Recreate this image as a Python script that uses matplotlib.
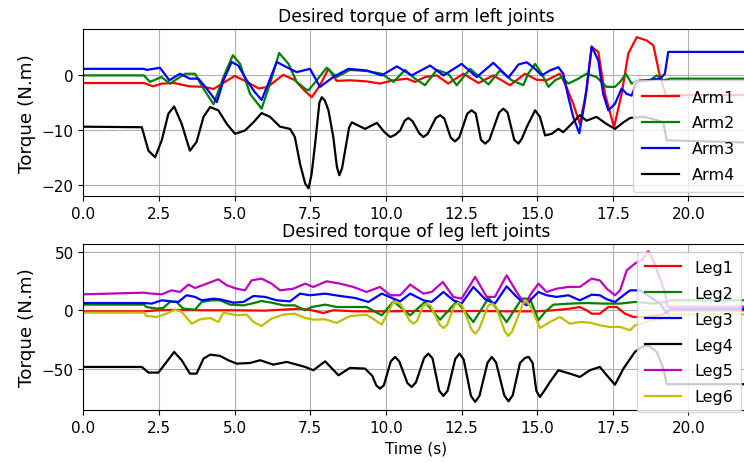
import matplotlib
matplotlib.use("Agg")
import matplotlib.pyplot as plt

# ---------------- Arm joints (top panel) ----------------
arm1_t = [0, 2.0, 2.3, 2.6, 3.0, 3.5, 4.0, 4.3, 5.0, 5.3, 5.8, 6.1, 6.6, 7.0, 7.3, 7.55, 7.82, 8.1, 8.37, 8.81,
          9.36, 9.8, 10.25, 10.7, 10.96, 11.29, 11.68, 12.06, 12.56, 13.06, 13.55, 14.1, 14.6, 14.98, 15.31,
          15.75, 15.92, 16.19, 16.41, 16.63, 16.8, 17.02, 17.24, 17.54, 17.79, 18.01, 18.29, 18.62, 18.84,
          19.06, 19.28, 19.4, 22]
arm1_v = [-1.4, -1.4, -2.0, -1.5, -1.4, -2.0, -2.1, -2.5, -0.1, -0.9, -2.4, -2.1, 0.1, -0.9, -2.75, -4.0, -1.8,
          1.2, -1.0, -0.9, -1.1, -1.5, -0.9, -0.6, -1.2, -0.3, 0.0, -1.5, 0.3, -1.4, 0.0, -1.8, 0.3, -0.8, -0.9,
          0.3, -1.5, -5.2, -8.9, -2.75, 5.2, 4.3, -3.4, -9.5, -3.4, 4.0, 7.0, 6.4, 5.5, -0.3, -4.0, -3.6, -3.6]

arm2_t = [0, 2.0, 2.2, 2.58, 2.86, 3.36, 3.69, 3.97, 4.3, 4.63, 4.94, 5.18, 5.51, 5.89, 6.17, 6.47, 6.78, 7.05,
          7.33, 7.44, 7.71, 8.04, 8.37, 8.81, 9.36, 9.86, 10.25, 10.63, 10.96, 11.29, 11.68, 12.06, 12.34, 12.78,
          13.39, 13.77, 14.16, 14.54, 14.7, 14.93, 15.15, 15.37, 15.59, 15.81, 16.03, 16.36, 16.63, 16.96, 17.29,
          17.57, 17.74, 17.93, 18.12, 18.4, 18.73, 18.95, 19.17, 19.39, 22]
arm2_v = [0, 0, -1.2, -0.3, -1.5, 0.3, 0.3, -2.45, -5.3, -0.3, 3.7, 2.1, -3.4, -6.1, -1.5, 4.1, 2.1, -1.2, -2.45,
          -2.75, -0.9, 1.4, -0.3, 1.0, 0.8, 0.3, -1.2, 1.0, -0.6, -1.8, 1.0, 0.3, -1.8, 1.2, -1.65, 0.9, -0.9,
          -1.8, 0.3, 2.1, 0.3, -2.1, -0.9, -0.3, -1.5, -0.6, 0.3, -0.3, -2.1, -2.1, -1.2, 0.3, -1.5, -0.9, -0.9,
          0.0, -0.9, -0.6, -0.6]

arm3_t = [0, 2.0, 2.09, 2.53, 2.84, 3.19, 3.52, 3.8, 4.08, 4.41, 4.63, 4.9, 5.12, 5.4, 5.67, 5.89, 6.11, 6.39,
          6.72, 7.05, 7.49, 7.82, 8.26, 8.76, 9.36, 9.86, 10.36, 10.85, 11.46, 11.9, 12.5, 13.0, 13.55, 14.05,
          14.38, 14.65, 14.87, 15.15, 15.42, 15.7, 15.86, 16.03, 16.19, 16.39, 16.58, 16.8, 17.02, 17.18, 17.35,
          17.57, 17.79, 17.96, 18.12, 18.29, 18.62, 19.06, 19.22, 19.33, 22]
arm3_v = [1.2, 1.2, 1.0, 1.4, -0.9, 0.3, -0.6, -0.6, -2.45, -4.9, -0.9, 2.45, 1.8, -0.9, -3.1, -4.5, -1.5, 2.45,
          1.5, 0.6, 1.2, -2.1, -0.3, 1.2, 0.9, 0.0, 1.65, 0.0, 1.8, 0.0, 2.1, -0.3, 2.3, -0.4, 2.0, 2.4, 1.5, 0.0,
          0.9, 1.5, 0.3, -4.0, -7.6, -10.6, -4.6, 5.3, 2.75, -3.4, -6.4, -5.2, -2.4, -3.4, -3.7, -1.2, -0.9, -0.6,
          0.3, 4.3, 4.3]

arm4_t = [0, 1.93, 2.15, 2.37, 2.59, 2.81, 3.0, 3.25, 3.52, 3.74, 3.97, 4.19, 4.46, 4.74, 5.01, 5.34, 5.62, 5.89,
          6.17, 6.5, 6.83, 6.99, 7.16, 7.33, 7.44, 7.54, 7.66, 7.8, 7.88, 7.98, 8.1, 8.26, 8.38, 8.46, 8.55, 8.65,
          8.78, 8.87, 9.09, 9.31, 9.7, 9.95, 10.14, 10.3, 10.47, 10.62, 10.74, 10.88, 11.1, 11.24, 11.38, 11.65,
          11.79, 11.93, 12.14, 12.28, 12.42, 12.69, 12.83, 12.97, 13.14, 13.28, 13.42, 13.74, 13.88, 14.02,
          14.24, 14.38, 14.5, 14.65, 14.93, 15.09, 15.26, 15.48, 15.7, 15.86, 16.08, 16.41, 16.63, 16.96, 17.29,
          17.57, 17.85, 18.07, 18.51, 18.84, 19.17, 19.28, 22]
arm4_v = [-9.4, -9.5, -13.8, -15.0, -11.9, -7.0, -5.7, -8.9, -13.8, -12.2, -7.6, -5.8, -6.4, -8.9, -10.7, -10.1,
          -8.6, -6.9, -7.6, -9.4, -9.8, -11.3, -16.2, -19.8, -20.7, -18.2, -12.5, -5.0, -4.0, -4.6, -6.4, -11.3,
          -16.8, -18.3, -17.0, -13.8, -9.6, -8.6, -9.2, -9.8, -8.7, -10.4, -11.3, -10.9, -10.1, -8.3, -7.8, -8.4,
          -10.6, -11.3, -10.7, -7.8, -7.3, -7.9, -11.4, -12.1, -11.4, -7.0, -6.4, -7.0, -11.8, -12.5, -11.8, -6.8,
          -6.1, -6.8, -11.8, -12.5, -11.5, -9.5, -6.4, -7.6, -11.0, -10.7, -9.8, -10.4, -9.2, -7.3, -8.3, -7.6,
          -8.9, -9.8, -8.6, -7.8, -7.6, -8.0, -8.6, -11.9, -12.3]

# ---------------- Leg joints (bottom panel) ----------------
leg1_t = [0, 2.0, 2.5, 3.0, 4.0, 5.0, 6.0, 7.16, 7.55, 7.93, 8.26, 9.0, 10.0, 11.0, 12.0, 13.0, 14.0, 15.0, 15.53,
          16.08, 16.41, 16.63, 16.8, 17.07, 17.35, 17.63, 17.9, 18.18, 18.62, 19.17, 19.3, 22]
leg1_v = [-0.9, -0.9, 0.0, 0.3, 0.0, 0.0, -0.3, 1.4, 0.0, -2.3, 0.0, -0.9, -0.9, -0.6, -0.9, -0.6, -0.9, -0.9, 0.0,
          1.4, 2.8, 0.0, -2.9, -2.9, 2.8, 2.8, -2.9, -5.7, -5.7, -3.7, 0.0, 0.0]

leg2_t = [0, 2.0, 2.09, 2.42, 2.64, 2.86, 3.08, 3.3, 3.69, 3.91, 4.24, 4.52, 4.85, 5.29, 5.56, 5.89, 6.22, 6.61,
          6.99, 7.33, 7.55, 7.99, 8.37, 8.81, 9.36, 9.86, 10.25, 10.8, 11.29, 11.79, 12.34, 12.89, 13.39, 13.99,
          14.49, 14.76, 15.04, 15.26, 15.53, 16.08, 16.63, 17.18, 17.74, 18.23, 18.84, 19.28, 19.4, 22]
leg2_v = [4.8, 4.8, 2.8, 1.4, 2.0, 7.1, 7.1, 1.4, 0.5, 7.1, 8.5, 8.5, 4.8, 4.2, 5.7, 7.9, 6.5, 4.2, 4.2, 0.0, 2.8,
          4.8, 2.8, 2.8, 2.8, -4.3, 7.6, -4.3, 7.1, -8.0, 7.6, -10.0, 10.5, -10.0, 9.9, 9.9, -8.5, -1.4, 4.8, 5.7,
          6.2, 5.7, 5.7, 7.1, 5.7, 7.1, 8.5, 8.5]

leg3_t = [0, 2.0, 2.26, 2.59, 2.92, 3.14, 3.41, 3.69, 3.91, 4.3, 4.52, 4.96, 5.29, 5.62, 6.0, 6.39, 6.83, 7.16,
          7.49, 7.99, 8.48, 8.98, 9.42, 9.86, 10.25, 10.47, 10.8, 11.24, 11.51, 11.9, 12.23, 12.5, 12.89, 13.28,
          13.6, 13.99, 14.32, 14.65, 14.82, 15.04, 15.31, 15.64, 16.03, 16.41, 16.8, 17.07, 17.3, 17.57, 17.85,
          18.07, 18.4, 18.73, 19.06, 19.28, 19.4, 22]
leg3_v = [6.2, 6.2, 5.7, 8.5, 7.6, 7.1, 12.8, 11.4, 8.5, 9.9, 9.3, 6.5, 7.1, 12.2, 11.4, 8.5, 7.6, 14.2, 12.8,
          14.2, 12.2, 10.5, 7.1, 14.2, 9.9, 7.6, 14.2, 8.5, 7.1, 15.6, 8.5, 5.7, 19.9, 9.4, 5.7, 20.4, 11.4, 4.2,
          9.9, 15.6, 12.8, 11.4, 12.8, 8.5, 13.3, 12.8, 9.4, 7.1, 12.8, 17.0, 17.0, 11.4, 5.7, -2.8, 1.0, 1.0]

leg4_t = [0, 1.93, 2.15, 2.48, 2.75, 3.0, 3.25, 3.52, 3.74, 3.97, 4.19, 4.52, 4.79, 5.07, 5.51, 5.84, 6.28, 6.72,
          7.05, 7.33, 7.6, 7.99, 8.43, 8.81, 9.31, 9.55, 9.68, 9.8, 9.93, 10.16, 10.3, 10.44, 10.71, 10.85,
          10.99, 11.26, 11.4, 11.54, 11.76, 11.9, 12.04, 12.29, 12.43, 12.57, 12.81, 12.95, 13.09, 13.36, 13.5,
          13.64, 13.91, 14.05, 14.19, 14.43, 14.6, 14.72, 14.85, 14.97, 15.09, 15.25, 15.42, 15.7, 16.08, 16.41,
          16.74, 17.07, 17.3, 17.57, 17.85, 18.23, 18.45, 18.67, 18.95, 19.17, 19.28, 22]
leg4_v = [-48.3, -48.3, -53.1, -53.1, -44.0, -35.5, -42.6, -54.0, -54.0, -41.2, -37.8, -38.9, -42.6, -45.5, -44.9,
          -42.6, -46.3, -44.0, -46.3, -48.3, -51.1, -43.5, -55.4, -49.1, -49.7, -56.0, -64.0, -66.8, -64.0, -43.5,
          -39.8, -43.5, -62.0, -65.4, -61.5, -40.8, -36.9, -41.0, -68.5, -73.0, -68.5, -41.5, -36.9, -42.0, -73.0,
          -78.1, -73.0, -44.5, -39.8, -44.5, -72.5, -77.6, -72.5, -45.0, -40.5, -39.8, -45.0, -68.5, -73.9, -68.0,
          -61.1, -51.1, -54.0, -56.8, -51.1, -48.3, -55.4, -63.4, -49.7, -35.5, -31.3, -29.9, -35.5, -49.7, -63.0,
          -63.0]

leg5_t = [0, 1.98, 2.26, 2.59, 2.92, 3.19, 3.47, 3.69, 4.08, 4.46, 4.74, 5.07, 5.34, 5.56, 5.89, 6.22, 6.5, 6.94,
          7.33, 7.6, 8.04, 8.48, 8.92, 9.36, 9.8, 10.14, 10.47, 10.8, 11.24, 11.51, 11.88, 12.23, 12.5, 12.95,
          13.33, 13.6, 13.99, 14.32, 14.54, 14.65, 14.76, 15.04, 15.31, 15.64, 16.03, 16.41, 16.8, 17.07, 17.3,
          17.57, 17.74, 17.96, 18.23, 18.45, 18.67, 18.84, 19.06, 19.22, 19.3, 22]
leg5_v = [13.6, 15.0, 14.2, 13.6, 17.0, 15.6, 21.9, 19.0, 22.7, 26.4, 21.3, 18.4, 17.0, 25.5, 27.0, 22.7, 17.0,
          18.4, 22.7, 19.9, 24.7, 22.7, 19.9, 15.6, 19.9, 12.8, 12.8, 21.9, 14.2, 15.6, 24.1, 11.4, 9.9, 28.4, 11.4,
          11.4, 29.8, 15.6, 7.1, 5.7, 12.8, 22.7, 15.6, 18.4, 19.9, 19.9, 27.0, 25.5, 18.4, 12.8, 17.0, 34.1, 39.8,
          42.6, 50.3, 42.6, 27.0, 15.6, 3.0, 3.0]

leg6_t = [0, 2.0, 2.09, 2.42, 2.75, 3.03, 3.25, 3.58, 3.86, 4.19, 4.46, 4.63, 5.07, 5.4, 5.62, 5.89, 6.22, 6.61,
          6.99, 7.33, 7.6, 7.99, 8.37, 8.81, 9.36, 9.86, 10.25, 10.47, 10.79, 10.91, 11.03, 11.23, 11.35, 11.47,
          11.78, 11.9, 12.02, 12.27, 12.39, 12.51, 12.83, 12.95, 13.07, 13.38, 13.5, 13.62, 13.93, 14.05, 14.17,
          14.54, 14.65, 14.82, 15.09, 15.42, 15.75, 16.08, 16.41, 16.74, 17.07, 17.4, 17.74, 18.07, 18.23, 18.62,
          19.06, 19.28, 19.4, 22]
leg6_v = [-2.0, -2.0, -4.9, -5.7, -2.9, 0.5, -1.4, -11.4, -7.7, -6.6, -10.0, -2.0, -4.3, -3.7, -10.0, -13.4, -7.1,
          -3.7, -2.9, -6.6, -8.0, -7.7, -10.8, -4.9, -3.7, -12.2, 7.1, 5.7, -9.0, -11.4, -9.0, 4.0, 5.7, 4.0,
          -12.5, -15.1, -12.5, 4.5, 6.2, 4.5, -16.5, -19.9, -16.5, 4.0, 5.7, 4.0, -18.0, -21.9, -18.0, 6.2, 7.6,
          1.4, -15.1, -10.0, -5.7, -11.4, -10.0, -10.5, -12.8, -14.2, -14.2, -17.0, -12.8, -10.0, -7.1, -5.7,
          -3.5, -3.5]

arm_labels = ["Arm1", "Arm2", "Arm3", "Arm4"]
leg_labels = ["Leg1", "Leg2", "Leg3", "Leg4", "Leg5", "Leg6"]
arm_colors = ["r", "g", "b", "k"]
leg_colors = ["r", "g", "b", "k", "m", "y"]

W, H = 744, 464
fig = plt.figure(figsize=(W / 100, H / 100), dpi=100)

def ax_rect(left, top, right, bottom):
    return [left / W, 1 - bottom / H, (right - left) / W, (bottom - top) / H]

ax1 = fig.add_axes(ax_rect(83.4, 30, 749, 197))
ax2 = fig.add_axes(ax_rect(83.4, 245, 749, 411))

arm_series = [(arm1_t, arm1_v), (arm2_t, arm2_v), (arm3_t, arm3_v), (arm4_t, arm4_v)]
leg_series = [(leg1_t, leg1_v), (leg2_t, leg2_v), (leg3_t, leg3_v),
              (leg4_t, leg4_v), (leg5_t, leg5_v), (leg6_t, leg6_v)]

for (t, v), lab, c in zip(arm_series, arm_labels, arm_colors):
    ax1.plot(t, v, color=c, lw=1.6, label=lab, solid_joinstyle="round")
for (t, v), lab, c in zip(leg_series, leg_labels, leg_colors):
    ax2.plot(t, v, color=c, lw=1.6, label=lab, solid_joinstyle="round")

tick_fs = 11
for ax in (ax1, ax2):
    ax.set_xlim(0, 22)
    ax.set_xticks([0, 2.5, 5, 7.5, 10, 12.5, 15, 17.5, 20])
    ax.grid(True)
    ax.tick_params(labelsize=tick_fs)
    ax.set_ylabel("Torque (N.m)", fontsize=13.2)

ax1.set_ylim(-22.1, 8.5)
ax1.set_yticks([-20, -10, 0])
ax2.set_ylim(-85, 56.5)
ax2.set_yticks([-50, 0, 50])

ax1.set_title("Desired torque of arm left joints", fontsize=12.4)
ax2.set_title("Desired torque of leg left joints", fontsize=12.4)
ax2.set_xlabel("Time (s)", fontsize=tick_fs)

ax1.legend(loc="upper left", bbox_to_anchor=(632.7 / W, 1 - 81 / H), bbox_transform=fig.transFigure,
           borderaxespad=0, fontsize=11.5, labelspacing=0.68, borderpad=0.6, handlelength=2.3)
ax2.legend(loc="upper left", bbox_to_anchor=(636.7 / W, 1 - 253 / H), bbox_transform=fig.transFigure,
           borderaxespad=0, fontsize=11.5, labelspacing=0.68, borderpad=0.5, handlelength=2.3)

fig.savefig("out.png", dpi=100)
